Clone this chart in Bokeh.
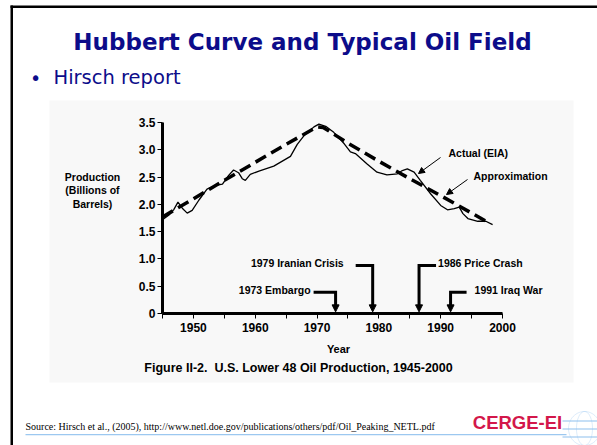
import numpy as np
from bokeh.plotting import figure
from bokeh.models import (Range1d, FixedTicker, Label, Arrow, NormalHead, LinearAxis,
                          BoxAnnotation, PolyAnnotation, NumeralTickFormatter)
from bokeh.embed import file_html
from bokeh.resources import INLINE

# ---------------- data ----------------
actual_year = [1945, 1946, 1946.8, 1947.5, 1948.2, 1949, 1949.8, 1950.9, 1952.2,
               1953.6, 1954.7, 1955.7, 1956.5, 1957.3, 1957.9, 1958.4, 1959.2,
               1960.6, 1963, 1965.7, 1966.8, 1967.9, 1969.5, 1970.3, 1971.4,
               1972.7, 1974.4, 1975.4, 1976.2, 1978.1, 1979.7, 1981.3, 1983,
               1983.8, 1984.6, 1985.7, 1986.7, 1988.4, 1990, 1991.1, 1992.2,
               1993, 1993.6, 1994.4, 1996, 1997.3, 1998.4]
actual_prod = [1.72, 1.80, 1.90, 2.04, 1.93, 1.84, 1.89, 2.08, 2.28,
               2.35, 2.37, 2.53, 2.63, 2.58, 2.47, 2.44, 2.55,
               2.61, 2.70, 2.88, 3.10, 3.26, 3.42, 3.47, 3.43,
               3.32, 3.11, 2.96, 2.93, 2.74, 2.59, 2.54, 2.56,
               2.62, 2.65, 2.59, 2.44, 2.19, 1.98, 1.90, 1.92,
               1.95, 1.83, 1.74, 1.69, 1.69, 1.63]

approx_year = [1945, 1950, 1955, 1960, 1965, 1970, 1971, 1975, 1980, 1985, 1990, 1995, 1997.5]
approx_prod = [1.77, 2.10, 2.44, 2.77, 3.10, 3.42, 3.41, 3.12, 2.79, 2.47, 2.16, 1.84, 1.68]

event_text = ["1973 Embargo", "1979 Iranian Crisis", "1986 Price Crash", "1991 Iraq War"]
event_year = [1973.0, 1979.0, 1986.5, 1991.6]
event_level = [0.39, 0.88, 0.88, 0.39]

x_ticks = [1950, 1960, 1970, 1980, 1990, 2000]
x_minor = [1945, 1955, 1965, 1975, 1985, 1995]
y_ticks = [0, 0.5, 1.0, 1.5, 2.0, 2.5, 3.0, 3.5]
y_tick_labels = ["0", "0.5", "1.0", "1.5", "2.0", "2.5", "3.0", "3.5"]

# ---------------- layout helpers (page pixels -> data units) ----------------
W, H = 597, 445
FL, FR, FT, FB = 162, 502, 122, 313   # chart area edges on the page
X0, X1, Y0, Y1 = 1945, 2000, 0, 3.5


def dx(px):
    return X0 + (np.asarray(px, dtype=float) - FL) * (X1 - X0) / (FR - FL)


def dy(py):
    return Y0 + (FB - np.asarray(py, dtype=float)) * (Y1 - Y0) / (FB - FT)


BG = "#f8f8f8"
NAVY = "#0c0c8a"
SANS = "Liberation Sans"

p = figure(width=W, height=H,
           x_range=Range1d(float(dx(0)), float(dx(W))),
           y_range=Range1d(float(dy(H)), float(dy(0))),
           output_backend="svg", toolbar_location=None,
           x_axis_location=None, y_axis_location=None,
           min_border=0, background_fill_color="white", border_fill_color="white",
           outline_line_color=None)
p.title.visible = False
p.grid.visible = False

# slide background pieces
p.add_layout(BoxAnnotation(left=float(dx(49)), right=float(dx(573)), top=float(dy(100)),
                           bottom=float(dy(382)), fill_color=BG, fill_alpha=1,
                           line_color=None, level="underlay"))
p.add_layout(BoxAnnotation(left=float(dx(10)), right=float(dx(12.5)), top=float(dy(5)),
                           bottom=float(dy(446)), fill_color="black", fill_alpha=1, line_color=None))
p.add_layout(BoxAnnotation(left=float(dx(10)), right=float(dx(598)), top=float(dy(5)),
                           bottom=float(dy(7.5)), fill_color="black", fill_alpha=1, line_color=None))

# axes drawn at fixed locations inside the canvas
xa = LinearAxis(fixed_location=0, bounds=(X0, X1))
xa.ticker = FixedTicker(ticks=x_ticks, minor_ticks=x_minor)
xa.axis_line_width = 3
xa.major_tick_out = 5
xa.major_tick_in = 0
xa.minor_tick_out = 5
xa.minor_tick_in = 0
xa.major_label_standoff = 4
xa.major_label_text_font = SANS
xa.major_label_text_font_style = "bold"
xa.major_label_text_font_size = "12px"
xa.major_label_text_color = "black"
p.add_layout(xa, "below")

ya = LinearAxis(fixed_location=X0, bounds=(Y0, Y1))
ya.ticker = FixedTicker(ticks=y_ticks, minor_ticks=[])
ya.formatter = NumeralTickFormatter(format="0.0")
ya.major_label_overrides = {t: s for t, s in zip(y_ticks, y_tick_labels)}
ya.axis_line_width = 3
ya.major_tick_out = 5
ya.major_tick_in = 0
ya.minor_tick_out = 0
ya.minor_tick_in = 0
ya.major_label_standoff = 2
ya.major_label_text_font = SANS
ya.major_label_text_font_style = "bold"
ya.major_label_text_font_size = "12px"
ya.major_label_text_color = "black"
p.add_layout(ya, "left")

# series
p.line(approx_year, approx_prod, line_color="black", line_width=3.5, line_dash="12 6")
p.line(actual_year, actual_prod, line_color="black", line_width=1.3)


def lab(text, px, py, size="10.5px", align="left", font=SANS, style="bold", color="black", **kw):
    p.add_layout(Label(x=float(dx(px)), y=float(dy(py)), text=text, text_align=align,
                       text_baseline="middle", text_font=font, text_font_style=style,
                       text_font_size=size, text_color=color, **kw))


# curve annotations
lab("Actual (EIA)", 448, 152)
lab("Approximation", 473, 175)
p.add_layout(Arrow(x_start=float(dx(440)), y_start=float(dy(157)), x_end=float(dx(418)),
                   y_end=float(dy(173)), line_width=1,
                   end=NormalHead(size=6, fill_color="black", line_color="black")))
p.add_layout(Arrow(x_start=float(dx(467)), y_start=float(dy(179)), x_end=float(dx(446)),
                   y_end=float(dy(194)), line_width=1,
                   end=NormalHead(size=6, fill_color="black", line_color="black")))

# event markers: L-shaped leaders with arrowheads onto the year axis
leader_px = [-22, -17, 17, 16]
gap_px = [3, 12, 2, 8]
for txt, yr, lv, lead, gap in zip(event_text, event_year, event_level, leader_px, gap_px):
    yr_px = FL + (yr - X0) * (FR - FL) / (X1 - X0)
    end_x = float(dx(yr_px + lead))
    p.line([end_x, yr, yr], [lv, lv, 0.12], line_width=3, line_color="black", line_join="miter")
    p.add_layout(Arrow(x_start=yr, y_start=0.15, x_end=yr, y_end=0.03, line_width=3,
                       end=NormalHead(size=7, fill_color="black", line_color="black", line_width=1)))
    ty = FB - (lv - Y0) * (FB - FT) / (Y1 - Y0) - 2
    if lead < 0:
        lab(txt, yr_px + lead - gap, ty, align="right")
    else:
        lab(txt, yr_px + lead + gap, ty, align="left")

# texts around the chart
lab("Production\n(Billions of\nBarrels)", 92, 190, size="10.5px", align="center", text_line_height=1.15)
lab("Year", 338, 348, size="11px", align="center")
lab("Figure II-2.\u00a0 U.S. Lower 48 Oil Production, 1945-2000", 298, 367, size="12.5px", align="center")

lab("Hubbert Curve and Typical Oil Field", 302, 41, size="23px", align="center",
    font="DejaVu Sans", color=NAVY)
lab("\u2022", 35, 77, size="19px", align="center", font="DejaVu Sans", style="normal", color=NAVY)
lab("Hirsch report", 53, 77, size="19.5px", font="DejaVu Sans", style="normal", color=NAVY)

lab("Source: Hirsch et al., (2005), http://www.netl.doe.gov/publications/others/pdf/Oil_Peaking_NETL.pdf",
    25, 426, size="10px", font="Liberation Serif", style="normal")
p.add_layout(BoxAnnotation(left=float(dx(25)), right=float(dx(566)), top=float(dy(433.5)),
                           bottom=float(dy(434.7)), fill_color="#9cc8f0", fill_alpha=1, line_color=None))

# CERGE-EI logo
lab("CERGE-EI", 517, 422, size="18.5px", align="center", color="#d3174a")
t = np.linspace(0, 2 * np.pi, 60)
for rx, ry in [(16, 17), (8, 17)]:
    p.add_layout(PolyAnnotation(xs=[float(v) for v in dx(584 + rx * np.cos(t))],
                                ys=[float(v) for v in dy(428 + ry * np.sin(t))],
                                fill_alpha=0, line_color="#8ec0ee", line_width=1))
for yy in [420, 428, 436]:
    p.add_layout(BoxAnnotation(left=float(dx(562)), right=float(dx(598)), top=float(dy(yy)),
                               bottom=float(dy(yy + 1)), fill_color="#8ec0ee", fill_alpha=1,
                               line_color=None))

open("out.html", "w").write(file_html(p, INLINE))
